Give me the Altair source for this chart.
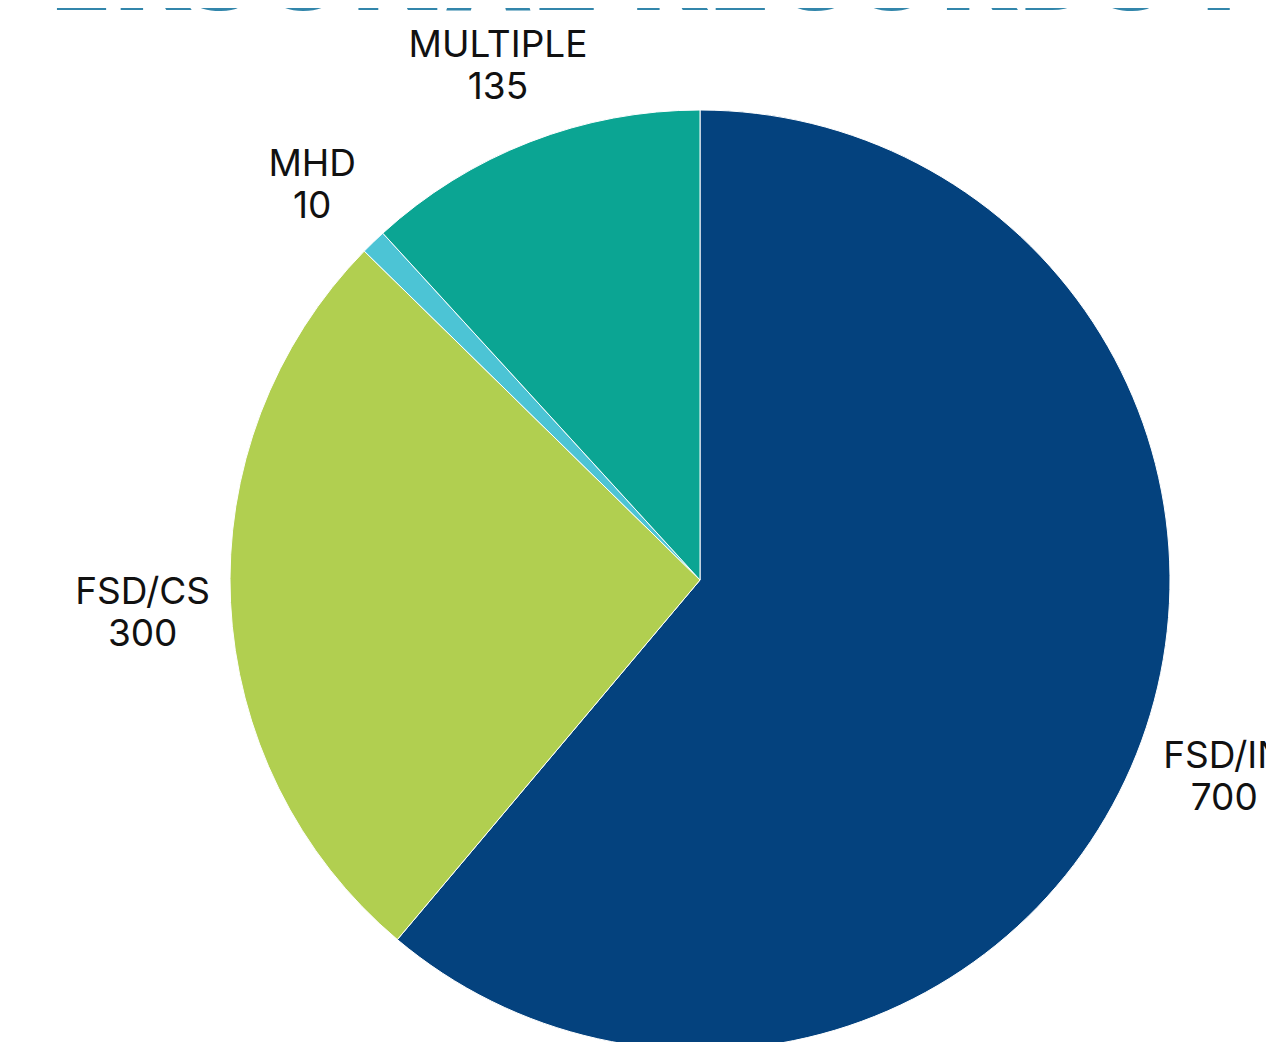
import altair as alt
import pandas as pd

categories = ["FSD/IN", "FSD/CS", "MHD", "MULTIPLE"]
values = [700, 300, 10, 135]
colors = ["#04427E", "#B1CF50", "#4CC4D5", "#0BA593"]
title_text = ["PERSONAL RECORDS F"]

df = pd.DataFrame({"category": categories, "value": values, "rank": list(range(len(categories)))})

CX, CY = 692, 572

base = alt.Chart(df).encode(
    theta=alt.Theta("value:Q", stack=True),
    order=alt.Order("rank:Q", sort="ascending"),
)

pie = base.mark_arc(outerRadius=470, stroke="white", strokeWidth=1).encode(
    color=alt.Color("category:N", scale=alt.Scale(domain=categories, range=colors), legend=None),
    x=alt.value(CX),
    y=alt.value(CY),
)

labels = base.mark_text(
    radius=558, font="Inter", fontSize=37, lineBreak="\n", lineHeight=42,
    align="center", baseline="middle", color="#111111", dy=-14,
).transform_calculate(
    label="datum.category + '\\n' + datum.value"
).encode(
    text="label:N",
    x=alt.value(CX),
    y=alt.value(CY),
)

title = alt.Chart(pd.DataFrame({"t": title_text})).mark_text(
    font="Open Sans", fontWeight=800, fontSize=116, align="center",
    baseline="alphabetic", color="#3286AB",
).encode(
    text="t:N",
    x=alt.value(610),
    y=alt.value(2),
)

chart = alt.layer(pie, labels, title).properties(
    width=1258, height=1034, padding=0,
    autosize=alt.AutoSizeParams(type="none"),
).configure_view(stroke=None)

chart.save("out.html", embed_options={"renderer": "svg", "actions": False})
